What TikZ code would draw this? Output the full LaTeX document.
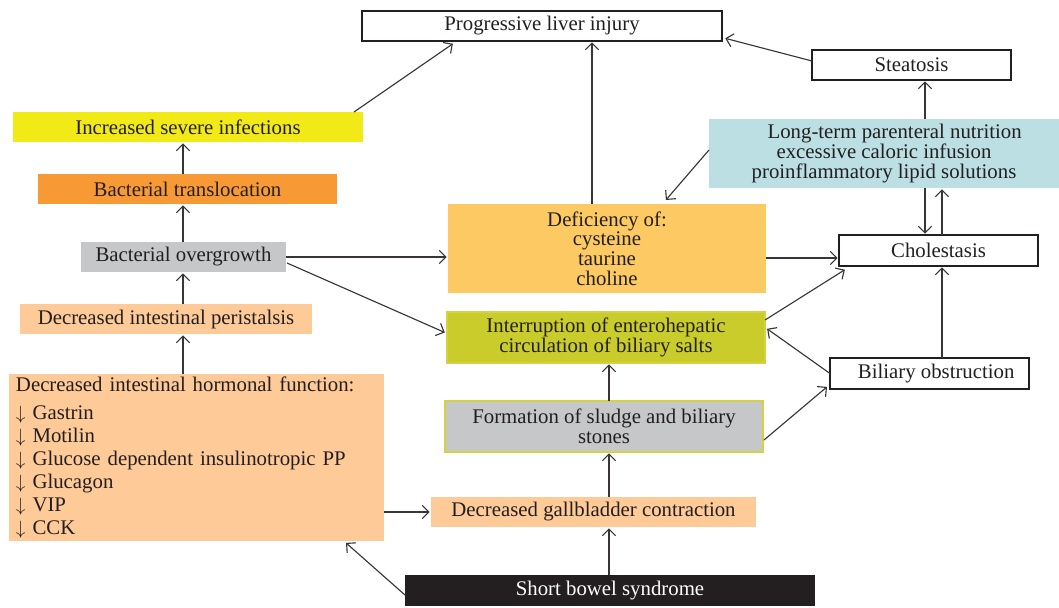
\documentclass[tikz,border=0pt]{standalone}
\usepackage{fontspec}
\setmainfont{Liberation Serif}
\usetikzlibrary{arrows.meta,calc}
\definecolor{ink}{HTML}{231F20}
\definecolor{cyel}{HTML}{F2EA16}
\definecolor{corange}{HTML}{F79A36}
\definecolor{cgray}{HTML}{C6C7C9}
\definecolor{cpeach}{HTML}{FDCA98}
\definecolor{cgold}{HTML}{FDC962}
\definecolor{cgreen}{HTML}{C9CC2A}
\definecolor{cgreenb}{HTML}{D2D244}
\definecolor{cblue}{HTML}{BBDFE3}
\newcommand{\dn}{$\downarrow$}
\tikzset{
  wh/.style 2 args={minimum width=#1*0.75pt, minimum height=#2*0.75pt},
  box/.style={rectangle, inner sep=0pt, outer sep=0pt, align=center, text=ink,
    font=\fontsize{15.6}{14.8}\selectfont},
  wbox/.style={box, draw=ink, line width=0.9pt, fill=white},
  arr/.style={draw=ink!90, line width=0.85pt, -{Straight Barb[length=5pt,width=10pt]}, shorten >=1pt}
}
\begin{document}
\begin{tikzpicture}[x=0.75pt,y=-0.75pt]
\useasboundingbox (0,0) rectangle (1059,607);
\node[wbox, wh={360}{30}] (plj) at (542,26) {Progressive liver injury};
\node[wbox, wh={199}{30}] (steat) at (911.5,65) {Steatosis};
\node[box, fill=cyel, wh={350}{30}] (infect) at (188,127) {Increased severe infections};
\node[box, fill=corange, wh={299}{30}] (transl) at (187.5,189) {Bacterial translocation};
\node[box, fill=cblue, wh={350}{69}] (lpn) at (884,153.5) {\hspace*{16pt}Long-term parenteral nutrition\\excessive caloric infusion\\proinflammatory lipid solutions};
\node[box, fill=cgold, wh={318}{89}] (defic) at (607,248.5) {Deficiency of:\\cysteine\\taurine\\choline};
\node[box, fill=cgray, wh={205}{30}] (overg) at (183.5,257) {Bacterial overgrowth};
\node[wbox, wh={199}{31}] (chol) at (938.5,250.5) {Cholestasis};
\node[box, fill=cpeach, wh={292}{30}] (peri) at (166,319) {Decreased intestinal peristalsis};
\node[box, fill=cgreen, draw=cgreenb, line width=0.9pt, wh={318}{51}] (interr) at (606,337.5) {Interruption of enterohepatic\\circulation of biliary salts};
\node[wbox, wh={199}{31}] (bil) at (929.5,373.5) {\hspace*{10pt}Biliary obstruction};
\node[box, fill=cgray, draw=cgreenb, line width=0.9pt, wh={318}{51}] (sludge) at (604,426.5) {Formation of sludge and biliary\\stones};
\node[box, fill=cpeach, wh={375}{167}, align=left, inner xsep=5.25pt, text width=270.75pt,
  font=\fontsize{15.6}{17.25}\selectfont] (horm) at (196.5,457.5)
  {Decreased intestinal hormonal function:\\[3.75pt]
   \dn\ Gastrin\\ \dn\ Motilin\\ \dn\ Glucose dependent insulinotropic PP\\ \dn\ Glucagon\\ \dn\ VIP\\ \dn\ CCK};
\node[box, fill=cpeach, wh={325}{30}] (gall) at (593.5,512) {Decreased gallbladder contraction};
\node[box, fill=ink, text=white, wh={410}{31}] (sbs) at (610,590.5) {Short bowel syndrome};

\coordinate (lc) at (183,0);
\coordinate (mc) at (609,0);
\coordinate (dc) at (592,0);
\coordinate (rca) at (925,0);
\coordinate (rcb) at (942,0);

\draw[arr] ($(infect.north east)+(-9,0)$) -- ($(plj.south west)+(92,2)$);
\draw[arr] (transl.north -| lc) -- (infect.south -| lc);
\draw[arr] (overg.north -| lc) -- (transl.south -| lc);
\draw[arr] (peri.north -| lc) -- (overg.south -| lc);
\draw[arr] (horm.north -| lc) -- (peri.south -| lc);
\draw[arr] (overg.east) -- (overg.east -| defic.west);
\draw[arr] ($(overg.east)+(1,6)$) -- ($(interr.west)+(-1,-4.5)$);
\draw[arr] (defic.north -| dc) -- (plj.south -| dc);
\draw[arr] ($(steat.west)+(0,-4)$) -- ($(plj.south east)+(2,-3)$);
\draw[arr] (lpn.north -| rca) -- (steat.south -| rca);
\draw[arr] ($(lpn.west)+(0,-3.5)$) -- ($(defic.north)+(58,-3)$);
\draw[arr] (lpn.south -| rca) -- (chol.north -| rca);
\draw[arr] (chol.north -| rcb) -- (lpn.south -| rcb);
\draw[arr] ($(defic.east)+(0,9.5)$) -- ($(chol.west)+(0,7.5)$);
\draw[arr] ($(interr.north east)+(0,8)$) -- ($(chol.south west)+(7,3)$);
\draw[arr] (bil.north -| rcb) -- (chol.south -| rcb);
\draw[arr] (bil.west) -- ($(interr.east)+(1,-9.5)$);
\draw[arr] ($(sludge.east)+(1,13.5)$) -- ($(bil.south west)+(-2,-3)$);
\draw[arr] (sludge.north -| mc) -- (interr.south -| mc);
\draw[arr] (gall.north -| mc) -- (sludge.south -| mc);
\draw[arr] (sbs.north -| mc) -- (gall.south -| mc);
\draw[arr] (gall.west -| horm.east) -- (gall.west);
\draw[arr] ($(sbs.west)+(0,4.5)$) -- ($(horm.south east)+(-39,1)$);
\end{tikzpicture}
\end{document}
